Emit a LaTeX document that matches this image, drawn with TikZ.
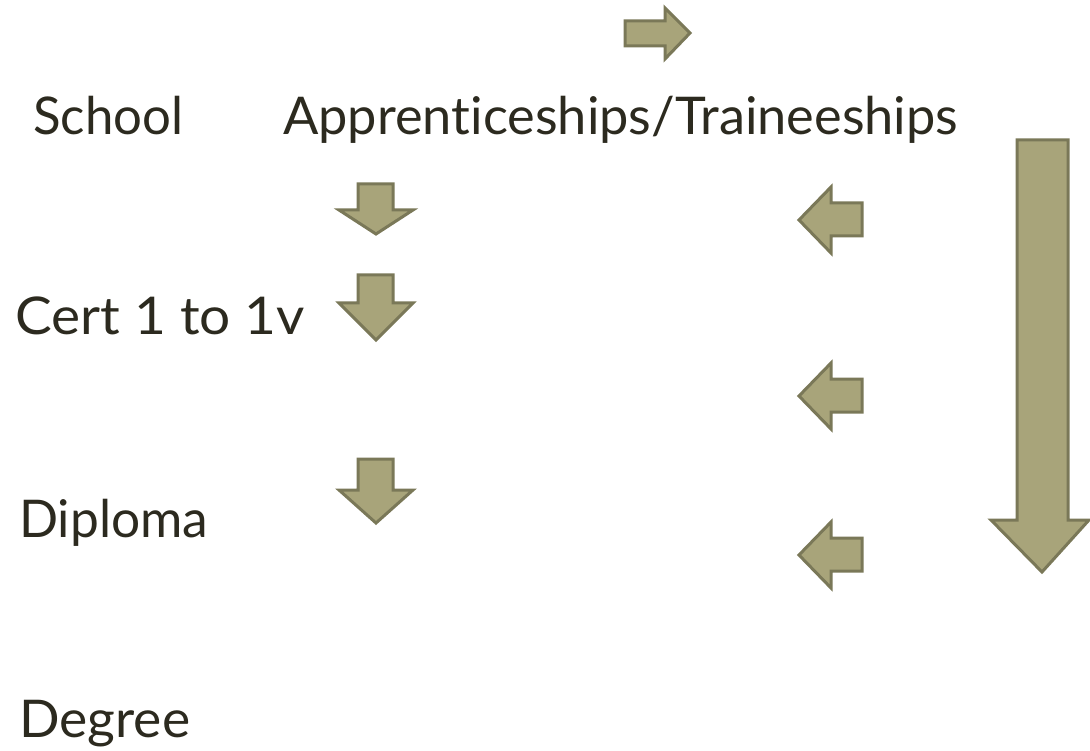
\documentclass[tikz,border=0pt]{standalone}
\usepackage{fontspec}
\usepackage{graphicx}
\setmainfont{Lato}[Ligatures=CommonOff]
\definecolor{arrfill}{HTML}{A8A47A}
\definecolor{arrline}{HTML}{7A7858}
\definecolor{txt}{HTML}{2C2A1F}
\newcommand\fitw[2]{\setbox0=\hbox{#2}\dimen0=\wd0\pgfmathsetmacro\fsx{#1/\the\dimen0}\scalebox{\fsx}[1]{\box0}}
\tikzset{
  lbl/.style={anchor=base west, inner sep=0pt, text=txt, font=\fontsize{52}{60}\selectfont},
  blockarrow/.style={fill=arrfill, draw=arrline, line width=3pt, line join=miter}
}
\begin{document}
\begin{tikzpicture}[x=1pt,y=-1pt]
\useasboundingbox (0,0) rectangle (1090,751);
\fill[white] (0,0) rectangle (1090,751);
% labels
\node[lbl] (school) at (33,135) {\fitw{150}{School}};
\node[lbl] (appr) at (283,135) {\fitw{675}{Apprent\kern0pt iceships/Traineeships}};
\node[lbl] (cert) at (15,335) {\fitw{290}{Cert 1 to 1v}};
\node[lbl] (dipl) at (19,537) {\fitw{189}{Diploma}};
\node[lbl] (degr) at (19,737) {\fitw{171}{Degree}};
% top right arrow
\draw[blockarrow] (625,21) -- (665,21) -- (665,8) -- (690,33) -- (665,59) -- (665,46) -- (625,46) -- cycle;
% left column down arrows
\draw[blockarrow] (358,184) -- (393,184) -- (393,210) -- (413,210) -- (376,234) -- (339,210) -- (358,210) -- cycle;
\draw[blockarrow] (358,275) -- (393,275) -- (393,303) -- (413,303) -- (376,340) -- (339,303) -- (358,303) -- cycle;
\draw[blockarrow] (358,459) -- (393,459) -- (393,490) -- (413,490) -- (376,523) -- (339,490) -- (358,490) -- cycle;
% right column left arrows
\draw[blockarrow] (862,203) -- (831,203) -- (831,187) -- (799,220) -- (831,253) -- (831,236) -- (862,236) -- cycle;
\draw[blockarrow] (862,379) -- (831,379) -- (831,363) -- (799,396) -- (831,429) -- (831,412) -- (862,412) -- cycle;
\draw[blockarrow] (862,538) -- (831,538) -- (831,522) -- (799,555) -- (831,588) -- (831,571) -- (862,571) -- cycle;
% big down arrow
\draw[blockarrow] (1017,140) -- (1068,140) -- (1068,520) -- (1089,520) -- (1042,572) -- (991,520) -- (1017,520) -- cycle;
\end{tikzpicture}
\end{document}
